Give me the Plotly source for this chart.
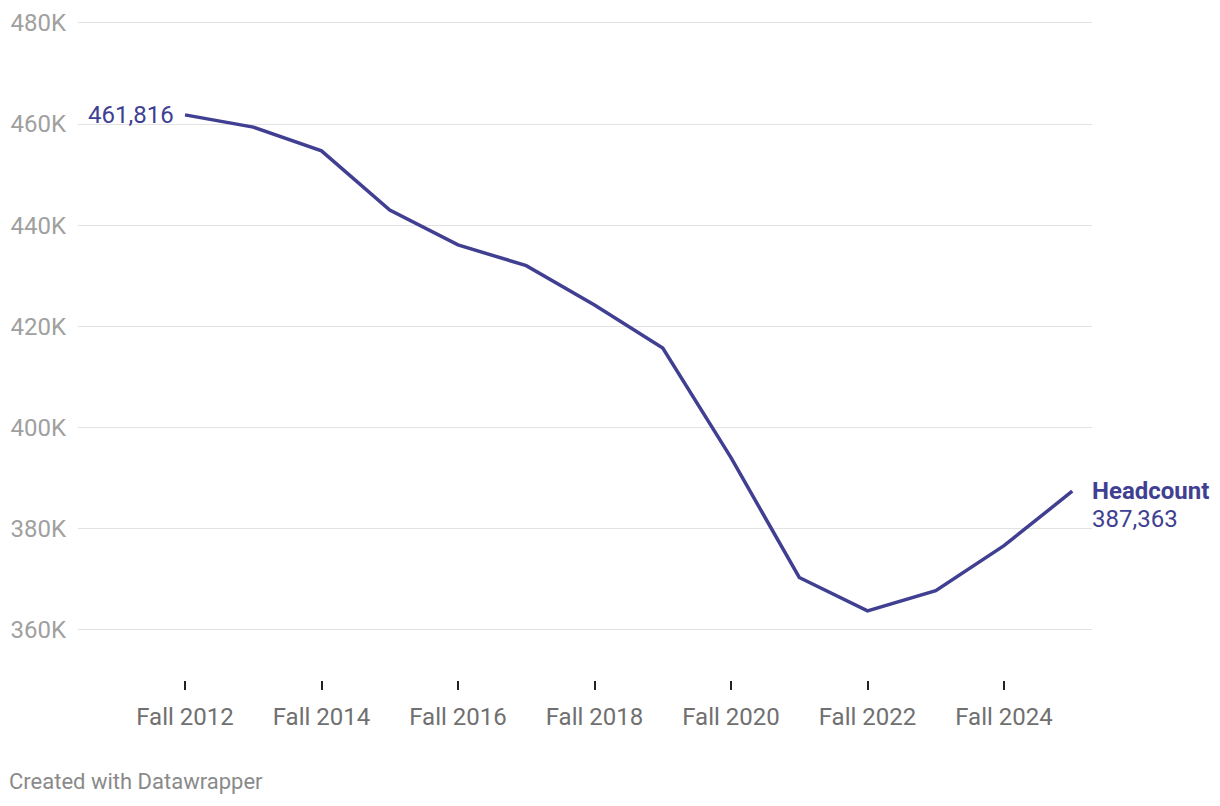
import plotly.graph_objects as go

years = [2012, 2013, 2014, 2015, 2016, 2017, 2018, 2019, 2020, 2021, 2022, 2023, 2024, 2025]
headcount = [461816, 459400, 454700, 443000, 436100, 432000, 424200, 415700, 394000,
             370300, 363700, 367700, 376600, 387363]
x_tick_vals = [2012, 2014, 2016, 2018, 2020, 2022, 2024]
x_tick_text = ["Fall 2012", "Fall 2014", "Fall 2016", "Fall 2018", "Fall 2020", "Fall 2022", "Fall 2024"]
y_tick_vals = [360000, 380000, 400000, 420000, 440000, 460000, 480000]
y_tick_text = ["360K", "380K", "400K", "420K", "440K", "460K", "480K"]

LINE = "#403f91"
OFF = 8  # page body margin
W, H = 1220 - OFF, 806 - 2 * OFF
# page-pixel positions of the plot area
left, right, top, bottom = 78, 1092, 13, 680.5
px_per_k = (630 - 23) / 120.0
y_top = 480 + (23 - top) / px_per_k
y_bot = 360 - (bottom - 630) / px_per_k

fig = go.Figure()
fig.add_trace(go.Scatter(x=years, y=headcount, mode="lines",
                         line=dict(color=LINE, width=3.5), hoverinfo="skip"))

fig.add_annotation(x=years[0], y=headcount[0], text=f"{headcount[0]:,}",
                   xanchor="right", yanchor="middle", xshift=-9, showarrow=False,
                   font=dict(family="Roboto", size=24, color=LINE))
fig.add_annotation(x=1, xref="paper", y=headcount[-1], text="<b>Headcount</b>",
                   xanchor="left", yanchor="middle", yshift=0, xshift=-2, showarrow=False,
                   font=dict(family="Roboto", size=24, color=LINE))
fig.add_annotation(x=1, xref="paper", y=headcount[-1], text=f"{headcount[-1]:,}",
                   xanchor="left", yanchor="middle", yshift=-28, xshift=-2, showarrow=False,
                   font=dict(family="Roboto", size=24, color=LINE))
fig.add_annotation(x=-(left - 10) / (right - left), xref="paper", xanchor="left",
                   y=-(782 - bottom) / (bottom - top), yref="paper", yanchor="middle",
                   xshift=-3, yshift=0,
                   text="Created with Datawrapper", showarrow=False,
                   font=dict(family="Roboto", size=22, color="#8a8a8a"))

px_per_year = 68.25
x0 = 2012 - (185 - left) / px_per_year
x1 = 2025 + (right - 1072.25) / px_per_year

fig.update_layout(
    width=W, height=H, autosize=False,
    margin=dict(l=left - OFF, r=1220 - right, t=top - OFF, b=(806 - OFF) - bottom, pad=0),
    plot_bgcolor="white", paper_bgcolor="white",
    showlegend=False,
    font=dict(family="Roboto"),
    xaxis=dict(range=[x0, x1], tickvals=x_tick_vals, ticktext=x_tick_text,
               showgrid=False, zeroline=False, showline=False, automargin=False,
               ticks="outside", ticklen=9, tickwidth=2, tickcolor="#222",
               tickfont=dict(family="Roboto", size=24, color="#707070"),
               ticklabelstandoff=6),
    yaxis=dict(range=[y_bot * 1000, y_top * 1000], tickvals=y_tick_vals, ticktext=y_tick_text,
               showgrid=True, gridcolor="#e2e2e2", gridwidth=1, zeroline=False, automargin=False,
               showline=False, ticks="", tickfont=dict(family="Roboto", size=24, color="#a0a0a0"),
               ticklabelstandoff=11),
)

fig.write_html("out.html")
